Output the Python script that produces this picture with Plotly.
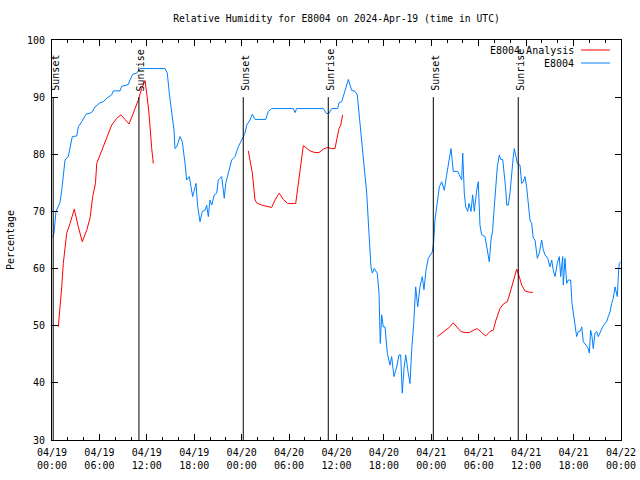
import plotly.graph_objects as go
import pandas as pd

# ---- data (hours since 2024-04-19 00:00 UTC, relative humidity %) ----
obs_hours = [0.1, 0.25, 0.5, 1.0, 1.23, 1.43, 1.65, 2.06, 2.28, 2.57, 3.13, 3.33, 3.76, 4.30, 5.02, 5.44,
             6.07, 6.49, 6.92, 7.55, 7.76, 8.60, 8.82, 9.65, 9.87, 10.21, 10.72, 11.13, 14.30, 14.59,
             14.84, 15.15, 15.44, 15.56, 15.78, 16.20, 16.49, 16.83, 17.04, 17.37, 17.55, 17.80, 17.97,
             18.22, 18.44, 18.64, 18.73, 19.02, 19.36, 19.57, 19.78, 19.99, 20.21, 20.54, 20.84, 21.04,
             21.47, 21.80, 21.98, 22.31, 22.74, 23.16, 23.57, 24.00, 24.42, 24.64, 25.05, 25.35, 25.69,
             27.04, 27.37, 27.80, 30.53, 30.75, 30.96, 34.33, 34.76, 35.05, 35.39, 36.15, 36.32, 36.66,
             36.99, 37.29, 37.50, 37.92, 38.34, 38.63, 38.85, 39.10, 39.31, 39.52, 39.82, 40.11, 40.36,
             40.53, 40.78, 41.16, 41.38, 41.54, 41.72, 41.92, 42.14, 42.43, 42.77, 42.98, 43.27, 43.62,
             43.91, 44.12, 44.32, 44.54, 44.76, 45.08, 45.30, 45.51, 45.77, 46.02, 46.27, 46.56, 46.86,
             47.07, 47.32, 47.61, 48.12, 48.30, 48.46, 48.68, 49.01, 49.31, 49.64, 49.94, 50.23, 50.49,
             50.78, 51.34, 51.63, 51.84, 51.97, 52.17, 52.35, 52.60, 52.77, 53.02, 53.23, 53.44, 53.74,
             53.94, 54.16, 54.37, 54.79, 55.00, 55.21, 55.33, 55.55, 55.76, 55.93, 56.14, 56.35, 56.60,
             56.78, 57.03, 57.19, 57.41, 57.54, 57.74, 57.95, 58.17, 58.37, 58.50, 58.71, 58.88, 59.22,
             59.43, 59.63, 59.85, 60.06, 60.27, 60.48, 60.70, 60.90, 61.12, 61.41, 61.66, 61.96, 62.17,
             62.38, 62.72, 63.01, 63.23, 63.43, 63.65, 63.94, 64.19, 64.37, 64.62, 64.70, 64.91, 65.13,
             65.33, 65.63, 65.80, 65.96, 66.18, 66.39, 66.60, 66.81, 67.03, 67.23, 67.57, 67.86, 67.99,
             68.16, 68.33, 68.49, 68.71, 68.92, 69.13, 69.43, 69.68, 69.97, 70.19, 70.39, 70.61, 70.82,
             71.02, 71.24, 71.36, 71.53, 71.66, 71.78, 71.95]
obs_values = [65.5, 66.2, 70.0, 71.5, 73.7, 76.7, 79.0, 79.6, 81.3, 83.1, 83.2, 84.8, 85.7, 87.0, 87.3, 88.3,
              89.0, 89.2, 89.8, 90.4, 91.1, 91.1, 91.9, 92.2, 93.0, 94.0, 94.2, 95.0, 95.0, 94.2,
              90.7, 87.2, 84.2, 81.0, 81.3, 83.1, 82.2, 78.4, 75.5, 76.1, 74.9, 72.6, 73.5,
              74.9, 70.8, 68.5, 68.2, 70.0, 70.2, 71.1, 69.1, 72.0, 71.1, 72.9, 73.2, 75.5,
              76.1, 72.3, 74.9, 76.7, 79.0, 79.6, 81.3, 82.5, 83.7, 85.1, 86.0, 87.0, 86.1,
              86.1, 87.5, 88.0, 88.0, 87.3, 88.0, 88.0, 87.1, 87.2, 88.0, 88.0, 89.0, 89.2,
              90.7, 92.1, 93.1, 91.2, 91.0, 90.4, 87.2, 83.7, 79.6, 76.4, 73.2, 66.2, 60.3,
              59.2, 60.0, 59.2, 55.7, 46.9, 51.9, 49.8, 49.8, 45.2, 43.1, 44.6, 41.1, 42.8,
              44.9, 44.9, 38.2, 42.5, 44.9, 41.7, 39.9, 45.7, 50.4, 56.8, 53.3, 56.8, 58.6,
              56.3, 59.7, 61.8, 62.9, 64.7, 68.5, 70.8, 74.3, 75.2, 73.7, 76.4, 79.0, 81.0,
              77.0, 77.0, 76.1, 75.5, 80.2, 73.2, 70.8, 70.0, 71.4, 70.0, 72.9, 70.0, 73.7,
              75.2, 67.5, 65.9, 65.6, 63.8, 62.4, 61.2, 65.0, 66.7, 70.2, 74.9, 77.8, 79.9,
              79.1, 79.1, 77.2, 74.0, 71.1, 71.1, 73.2, 77.2, 79.6, 81.0, 79.6, 78.4, 78.1,
              74.9, 75.2, 76.1, 74.3, 71.4, 68.5, 67.9, 65.3, 65.0, 61.8, 62.7, 65.0, 63.3,
              62.4, 61.8, 60.3, 61.5, 59.7, 58.6, 60.9, 62.1, 58.6, 62.1, 57.1, 61.8, 57.4,
              58.0, 58.0, 53.9, 52.2, 49.8, 48.1, 49.0, 49.0, 49.8, 47.2, 46.6, 46.0, 45.2,
              49.2, 48.1, 46.0, 48.7, 49.0, 48.1, 49.2, 49.8, 50.4, 50.7, 51.6, 52.4, 53.9,
              54.8, 56.8, 55.9, 55.1, 58.6, 60.9, 61.2]

ana_hours = [0.80, 1.01, 1.23, 1.43, 1.77, 1.86, 2.28, 2.82, 3.33, 3.83, 4.39, 4.81, 5.15, 5.50, 5.66,
             6.29, 6.92, 7.55, 8.19, 8.73, 9.24, 9.74, 10.29, 10.92, 11.35, 11.77, 11.98, 12.27,
             12.62, 12.82, None,
             24.84, 25.05, 25.35, 25.69, 25.90, 26.53, 27.17, 27.80, 28.22, 28.76, 29.27, 29.82,
             30.84, 31.10, 31.38, 31.60, 31.80, 32.10, 32.65, 33.28, 33.78, 34.33, 34.89, 35.39,
             35.81, 36.02, 36.32, 36.53, 36.78, None,
             48.75, 49.31, 49.73, 50.27, 50.78, 51.21, 51.72, 52.26, 52.80, 53.31, 53.81, 54.37,
             54.88, 55.42, 55.84, 56.18, 56.69, 57.11, 57.61, 57.95, 58.37, 58.80, 59.13, 59.43,
             59.85, 60.27, 60.83]
ana_values = [49.8, 53.0, 56.8, 60.9, 64.7, 66.2, 67.9, 70.4, 67.3, 64.7, 66.7, 68.8, 72.6, 74.9, 78.4,
              80.7, 83.1, 85.1, 86.3, 86.9, 86.1, 85.3, 87.2, 89.5, 91.5, 92.9, 90.7, 87.2,
              81.0, 78.4, None,
              80.6, 79.0, 76.7, 72.0, 71.5, 71.1, 70.9, 70.7, 72.0, 73.2, 72.1, 71.4,
              71.4, 74.3, 77.2, 80.2, 81.5, 81.2, 80.6, 80.3, 80.3, 80.9, 81.2, 81.0,
              81.0, 82.5, 84.5, 85.1, 86.9, None,
              48.1, 48.7, 49.0, 49.7, 50.5, 49.8, 49.0, 48.8, 48.8, 49.2, 49.5, 48.8,
              48.2, 49.0, 49.2, 51.0, 53.0, 53.8, 54.2, 55.7, 57.7, 59.9, 58.6, 57.1,
              56.1, 55.9, 55.8]

event_labels = ["Sunset", "Sunrise", "Sunset", "Sunrise", "Sunset", "Sunrise"]
event_hours = [0.15, 11.0, 24.2, 34.96, 48.25, 59.0]

series_names = ["E8004 Analysis", "E8004"]
series_colors = ["#ff0000", "#0080ff"]
title_text = "Relative Humidity for E8004 on 2024-Apr-19 (time in UTC)"
y_title = "Percentage"

base = pd.Timestamp("2024-04-19 00:00")


def to_time(hours):
    return [None if h is None else base + pd.Timedelta(hours=h) for h in hours]


FONT = "DejaVu Sans Mono"
FS = 10
W, H = 640, 480

fig = go.Figure()
fig.add_trace(go.Scatter(x=to_time(obs_hours), y=obs_values, mode="lines", name=series_names[1],
                         line=dict(color=series_colors[1], width=1), showlegend=False))
fig.add_trace(go.Scatter(x=to_time(ana_hours), y=ana_values, mode="lines", name=series_names[0],
                         line=dict(color=series_colors[0], width=1), connectgaps=False,
                         showlegend=False))

for lab, h in zip(event_labels, event_hours):
    t = base + pd.Timedelta(hours=h)
    fig.add_shape(type="line", xref="x", yref="y", x0=t, x1=t, y0=30, y1=90,
                  line=dict(color="black", width=1))
    fig.add_annotation(x=t, y=90.9, xref="x", yref="y", text=lab, textangle=-90,
                       showarrow=False, xanchor="center", yanchor="bottom", borderpad=0,
                       xshift=1.5, font=dict(family=FONT, size=FS, color="black"))

# gnuplot-style key: right-aligned text followed by a line sample
for i, (name, col) in enumerate(zip(series_names, series_colors)):
    ypx = 50 + 13 * i
    yp = (440 - ypx) / 400
    fig.add_annotation(x=(575 - 52) / 569, y=yp, xref="paper", yref="paper", text=name,
                       showarrow=False, xanchor="right", yanchor="middle", borderpad=0,
                       font=dict(family=FONT, size=FS, color="black"))
    fig.add_shape(type="line", xref="paper", yref="paper", x0=(581 - 52) / 569, x1=(610 - 52) / 569,
                  y0=yp, y1=yp, line=dict(color=col, width=1))

fig.update_layout(
    width=W, height=H,
    margin=dict(l=52, r=19, t=40, b=40, autoexpand=False),
    paper_bgcolor="white", plot_bgcolor="white",
    font=dict(family=FONT, size=FS, color="black"),
    title=dict(text=title_text, x=0.5, xref="paper", y=1 - 19 / H, yref="container",
               yanchor="middle", xanchor="center", font=dict(family=FONT, size=9.7)),
    showlegend=False,
)
fig.update_xaxes(
    range=[base, base + pd.Timedelta(hours=72)], type="date", automargin=False,
    tick0=base, dtick=6 * 3600 * 1000, tickformat="%m/%d<br>%H:%M",
    ticks="inside", ticklen=6, tickcolor="black", showline=True, linecolor="black",
    mirror="allticks", showgrid=False, zeroline=False, ticklabelstandoff=3,
    ticklabeloverflow="allow",
    minor=dict(dtick=2 * 3600 * 1000, ticks="inside", ticklen=3, tickcolor="black", showgrid=False),
)
fig.update_yaxes(
    range=[30, 100], dtick=10, ticks="inside", ticklen=6, tickcolor="black", automargin=False,
    showline=True, linecolor="black", mirror="allticks", showgrid=False, zeroline=False,
    ticklabelstandoff=4,
    title=dict(text=y_title, standoff=10, font=dict(family=FONT, size=FS)),
)

fig.write_html("out.html", config={"displayModeBar": False, "staticPlot": True},
               post_script="document.body.style.margin='0';document.body.style.overflow='hidden';")
